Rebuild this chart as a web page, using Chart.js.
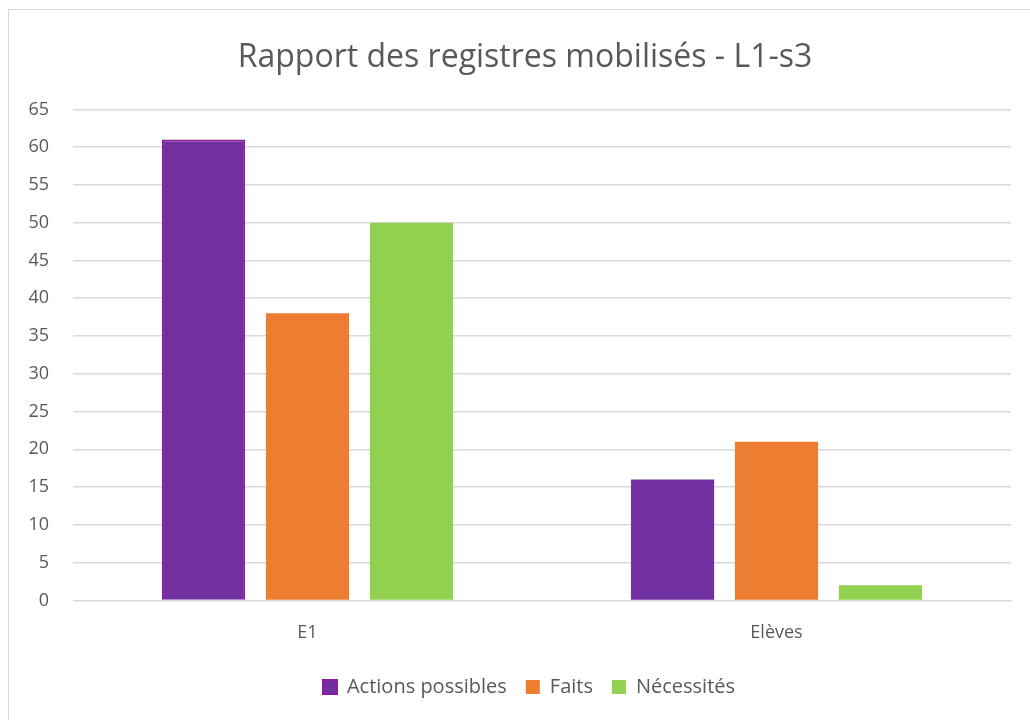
<!DOCTYPE html>
<html lang="fr">
<head>
  <meta charset="UTF-8" />
  <title>Rapport des registres mobilisés - L1-s3</title>
  <script src="https://cdn.jsdelivr.net/npm/chart.js"></script>
  <style>
    * { box-sizing: border-box; }
    body { margin: 0; background: #fff; overflow: hidden; }
    .frame {
      position: absolute;
      left: 8px; top: 9px;
      width: 1040px; height: 730px;
      border: 1px solid #d9d9d9;
      background: #fff;
    }
    #chart { display: block; }
  </style>
</head>
<body>
  <div class="frame">
    <canvas id="chart" width="1022" height="711"></canvas>
  </div>

  <script>
    const categories = ['E1', 'Elèves'];
    const actionsPossibles = [61, 16];
    const faits = [38, 21];
    const necessites = [50, 2];

    const grey = '#595959';
    const font = "'Open Sans', sans-serif";

    // title and legend sit a little right of the plot's centre
    const nudgeBlocks = {
      id: 'nudgeBlocks',
      afterLayout(chart) {
        const shift = (box, dx) => { box.left += dx; box.right += dx; };
        shift(chart.titleBlock, 8);
        shift(chart.legend, 12);
      }
    };

    new Chart(document.getElementById('chart'), {
      type: 'bar',
      data: {
        labels: categories,
        datasets: [
          {
            label: 'Actions possibles',
            data: actionsPossibles,
            backgroundColor: '#7030A0',
            borderColor: ['#8E1B9E', '#7030A0'],
            borderWidth: [2, 0]
          },
          { label: 'Faits', data: faits, backgroundColor: '#ED7D31', borderWidth: 0 },
          { label: 'Nécessités', data: necessites, backgroundColor: '#92D050', borderWidth: 0 }
        ]
      },
      options: {
        responsive: false,
        animation: false,
        categoryPercentage: 0.665,
        barPercentage: 0.8,
        layout: { padding: { left: 14, right: 20, top: 0, bottom: 14 } },
        plugins: {
          title: {
            display: true,
            text: 'Rapport des registres mobilisés - L1-s3',
            color: grey,
            font: { family: font, size: 32, weight: 'normal' },
            padding: { top: 29, bottom: 32 }
          },
          legend: {
            position: 'bottom',
            labels: {
              color: grey,
              font: { family: font, size: 20 },
              boxWidth: 14,
              boxHeight: 14,
              padding: 19
            }
          },
          tooltip: { enabled: false }
        },
        scales: {
          x: {
            grid: { display: false },
            border: { color: '#d9d9d9' },
            ticks: { color: grey, font: { family: font, size: 18 }, padding: 14 }
          },
          y: {
            min: 0,
            max: 65,
            // fixed axis width keeps the plot starting at the same x
            afterFit: (axis) => { axis.width = 50; },
            ticks: { stepSize: 5, color: grey, font: { family: font, size: 18 }, padding: 24 },
            grid: { color: '#d9d9d9', lineWidth: 1.5, drawTicks: false },
            border: { display: false }
          }
        }
      },
      plugins: [nudgeBlocks]
    });
  </script>
</body>
</html>
